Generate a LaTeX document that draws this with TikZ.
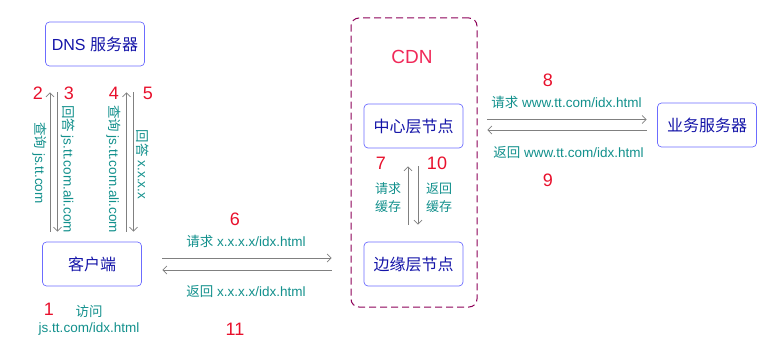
\documentclass[tikz,border=0pt]{standalone}
\usepackage{fontspec}
\setmainfont{Liberation Sans}
\newfontfamily\zh{Noto Sans CJK SC}
\usetikzlibrary{arrows.meta,positioning}
\definecolor{boxline}{HTML}{6C6CFF}
\definecolor{boxtext}{HTML}{1414A8}
\definecolor{labteal}{HTML}{12908C}
\definecolor{numred}{HTML}{E8102C}
\definecolor{cdnred}{HTML}{F02858}
\definecolor{cdnline}{HTML}{8C0058}
\definecolor{arrgray}{HTML}{808080}

\begin{document}
\begin{tikzpicture}[x=1pt, y=-1pt,
  box/.style={draw=boxline, line width=0.7pt, rounded corners=4pt, minimum width=99pt, minimum height=44pt,
              text=boxtext, font=\fontsize{16}{18}\selectfont},
  lab/.style={text=labteal, font=\fontsize{13.5}{18}\selectfont, inner sep=0pt},
  numlab/.style={text=numred, font=\fontsize{18}{20}\selectfont, inner sep=0pt},
  arr/.style={arrgray, line width=0.8pt, -{Straight Barb[length=4pt,width=8pt]}}]
  \useasboundingbox (0,0) rectangle (777,350);

  % boxes
  \node[draw=cdnline, dashed, dash pattern=on 7pt off 4pt, line width=1pt, rounded corners=8pt,
        minimum width=126pt, minimum height=289pt] (cdn) at (414,162.5) {};
  \node[text=cdnred, font=\fontsize{19}{22}\selectfont, inner sep=0pt] (cdntitle) at (412,57) {CDN};
  \node[box] (dns) at (95,44) {DNS {\zh 服务器}};
  \node[box] (client) at (92,264) {\zh 客户端};
  \node[box] (center) at (413.5,126) {\zh 中心层节点};
  \node[box] (edge) at (413.5,264) {\zh 边缘层节点};
  \node[box] (origin) at (707,125) {\zh 业务服务器};

  % client <-> dns
  \draw[arr] ([xshift=-42pt,yshift=10pt]client.north) -- ([xshift=-45pt,yshift=-26pt]dns.south);
  \draw[arr] ([xshift=-37.5pt,yshift=-26pt]dns.south) -- ([xshift=-34.5pt,yshift=10pt]client.north);
  \draw[arr] ([xshift=34.5pt,yshift=10pt]client.north) -- ([xshift=31.5pt,yshift=-26pt]dns.south);
  \draw[arr] ([xshift=38.5pt,yshift=-26pt]dns.south) -- ([xshift=41.5pt,yshift=10pt]client.north);
  \node[numlab] (n2) at (38,93) {2};
  \node[numlab] (n3) at (69,93) {3};
  \node[numlab] (n4) at (114,93) {4};
  \node[numlab] (n5) at (148,93) {5};
  \node[lab, rotate=-90] (ask1) at (39.5,163) {{\zh 查询} js.tt.com};
  \node[lab, rotate=-90] (ans1) at (68,169) {{\zh 回答} js.tt.com.ali.com};
  \node[lab, rotate=-90] (ask2) at (113.5,169) {{\zh 查询} js.tt.com.ali.com};
  \node[lab, rotate=-90] (ans2) at (143,164.5) {{\zh 回答} x.x.x.x};

  % visit
  \node[numlab] (n1) at (49,309) {1};
  \node[lab] (visit) at (89,311) {\zh 访问};
  \node[lab] (url) at (89,329) {js.tt.com/idx.html};

  % client <-> edge
  \draw[arr] ([xshift=20.5pt,yshift=6pt]client.east) -- ([xshift=-32pt,yshift=6pt]edge.west);
  \draw[arr] ([xshift=-32pt,yshift=-6pt]edge.west) -- ([xshift=20.5pt,yshift=-6pt]client.east);
  \node[numlab] (n6) at (235,219) {6};
  \node[lab] (req1) at (246,241) {{\zh 请求} x.x.x.x/idx.html};
  \node[lab] (ret1) at (246,291) {{\zh 返回} x.x.x.x/idx.html};
  \node[numlab] (n11) at (235,329) {11};

  % edge <-> center
  \draw[arr] ([xshift=-5.5pt,yshift=17pt]edge.north) -- ([xshift=-5.5pt,yshift=-18pt]center.south);
  \draw[arr] ([xshift=4.5pt,yshift=-18pt]center.south) -- ([xshift=4.5pt,yshift=17pt]edge.north);
  \node[numlab] (n7) at (381,163) {7};
  \node[numlab] (n10) at (437,163) {10};
  \node[lab, align=center, font=\zh\fontsize{13}{18}\selectfont] (reqc) at (388,198) {请求\\缓存};
  \node[lab, align=center, font=\zh\fontsize{13}{18}\selectfont] (retc) at (439,198) {返回\\缓存};

  % center <-> origin
  \draw[arr] ([xshift=24pt,yshift=6.5pt]center.east) -- ([xshift=-10.5pt,yshift=5.5pt]origin.west);
  \draw[arr] ([xshift=-10.5pt,yshift=-5pt]origin.west) -- ([xshift=24pt,yshift=-4pt]center.east);
  \node[numlab] (n8) at (548,80) {8};
  \node[lab] (req2) at (566.5,102) {{\zh 请求} www.tt.com/idx.html};
  \node[lab] (ret2) at (568.5,152) {{\zh 返回} www.tt.com/idx.html};
  \node[numlab] (n9) at (548,180) {9};
\end{tikzpicture}
\end{document}
